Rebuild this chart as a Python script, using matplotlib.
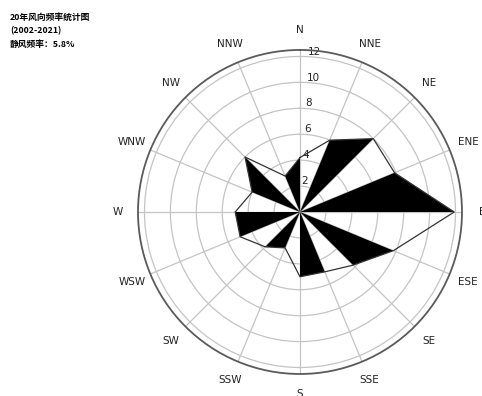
import numpy as np
import matplotlib
matplotlib.use('Agg')
import matplotlib.pyplot as plt

plt.rcParams['font.family'] = ['DejaVu Sans', 'Noto Sans CJK SC']

# 16 wind directions, clockwise from north
directions = ['N', 'NNE', 'NE', 'ENE', 'E', 'ESE', 'SE', 'SSE',
              'S', 'SSW', 'SW', 'WSW', 'W', 'WNW', 'NW', 'NNW']
# wind frequency (%) per direction
freq = [4.2, 6.0, 8.0, 7.9, 11.9, 7.8, 5.8, 5.0,
        5.0, 3.0, 3.8, 5.0, 5.0, 4.0, 6.0, 3.0]
r_ticks = [2, 4, 6, 8, 10, 12]

title_lines = ['20年风向频率统计图', '(2002-2021)', '静风频率：5.8%']

theta = np.deg2rad(np.arange(16) * 22.5)
r = np.array(freq)

fig = plt.figure(figsize=(4.82, 3.96), dpi=100)
ax = fig.add_axes([0.2863, 0.0556, 0.6722, 0.8182], projection='polar')
ax.set_theta_zero_location('N')
ax.set_theta_direction(-1)

# black triangles between every odd direction and the next one
for i in range(1, 16, 2):
    j = (i + 1) % 16
    ax.fill([0, theta[i], theta[j]], [0, r[i], r[j]],
            color='black', lw=0, zorder=3)

# closed outline through all directions
ax.plot(np.append(theta, theta[0]), np.append(r, r[0]),
        color='#333333', lw=0.9, zorder=4)

ax.set_ylim(0, 12.5)
ax.set_rticks(r_ticks)
ax.set_rlabel_position(3)
ax.set_thetagrids(np.arange(16) * 22.5, labels=directions)
ax.tick_params(axis='x', labelsize=7.5, pad=4, colors='#222222')
ax.tick_params(axis='y', labelsize=7.5, colors='#222222')
ax.grid(True, color='#c4c4c4', lw=0.9)
ax.spines['polar'].set_color('#5a5a5a')
ax.spines['polar'].set_linewidth(1.3)
ax.set_axisbelow(True)

for k, line in enumerate(title_lines):
    fig.text(10 / 482, 1 - (17 + 13.5 * k) / 396, line,
             fontsize=6.3, fontweight='bold', va='center', ha='left',
             family=['Noto Sans CJK SC', 'DejaVu Sans'])

fig.savefig('out.png', dpi=100)
